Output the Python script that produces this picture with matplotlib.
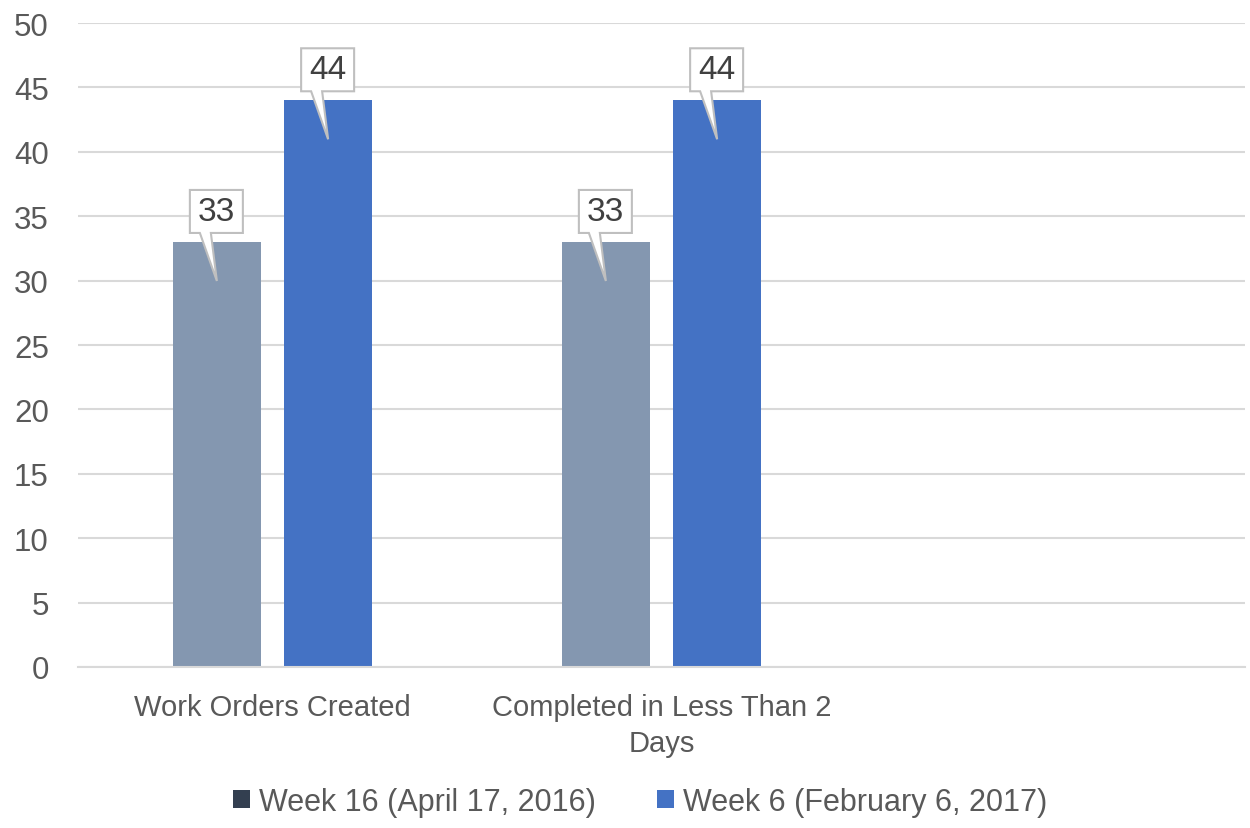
import matplotlib
matplotlib.use("Agg")
import matplotlib.pyplot as plt
import numpy as np
from matplotlib.patches import Polygon, Patch
from matplotlib.transforms import ScaledTranslation

categories = ["Work Orders Created", "Completed in Less Than 2\nDays", ""]
week16 = [33, 33, None]
week6 = [44, 44, None]
series_names = ["Week 16 (April 17, 2016)", "Week 6 (February 6, 2017)"]
yticks = [0, 5, 10, 15, 20, 25, 30, 35, 40, 45, 50]

plt.rcParams['font.family'] = ['Liberation Sans', 'DejaVu Sans']
TXT = "#595959"

fig = plt.figure(figsize=(12.5, 8.29), dpi=100)
ax = fig.add_axes([78/1250, 1-668/829, (1245-78)/1250, (668-24)/829])

x = np.arange(len(categories))
w = 0.226
off = 0.143
bar_colors = ["#8497B0", "#4472C4"]
legend_colors = ["#333F50", "#4472C4"]

for vals, dx, c in [(week16, -off, bar_colors[0]), (week6, off, bar_colors[1])]:
    xs = [xi + dx for xi, v in zip(x, vals) if v is not None]
    vs = [v for v in vals if v is not None]
    ax.bar(xs, vs, width=w, color=c, zorder=2)
    for xi, v in zip(xs, vs):
        tr = fig.dpi_scale_trans + ScaledTranslation(xi, v, ax.transData)
        s = 1/100.0
        verts = np.array([
            (-27, 9), (-17, 9), (0, -39), (-6, 9), (26, 9), (26, 52), (-27, 52)
        ]) * s
        poly = Polygon(verts, closed=True, facecolor="white", edgecolor="#BFBFBF",
                       linewidth=1.5, transform=tr, zorder=4, clip_on=False)
        ax.add_patch(poly)
        ax.text(-0.5*s, 30.5*s, str(v), transform=tr, ha="center", va="center",
                fontsize=24, color="#404040", zorder=5)

ax.set_xlim(-0.5, len(categories) - 0.5)
ax.set_ylim(0, 50)
ax.set_yticks(yticks)
ax.set_xticks(x)
ax.set_xticklabels(categories, fontsize=21, color=TXT, linespacing=1.35)
ax.tick_params(axis='y', labelsize=22.5, colors=TXT, length=0, pad=21)
ax.tick_params(axis='x', length=0, pad=19)
for lab in ax.get_yticklabels():
    lab.set_color(TXT)
ax.yaxis.grid(True, color="#D9D9D9", linewidth=1.5, zorder=0)
ax.set_axisbelow(True)
for sp in ["top", "right", "left"]:
    ax.spines[sp].set_visible(False)
ax.spines["bottom"].set_color("#D9D9D9")
ax.spines["bottom"].set_linewidth(1.5)

handles = [Patch(facecolor=c, edgecolor="none") for c in legend_colors]
fig.legend(handles, series_names, loc="center", bbox_to_anchor=(640/1250, 1-803/829),
           ncol=2, frameon=False, fontsize=22, labelcolor=TXT,
           handlelength=0.55, handleheight=0.55, handletextpad=0.3, columnspacing=2.0)

fig.savefig("out.png", dpi=100)
